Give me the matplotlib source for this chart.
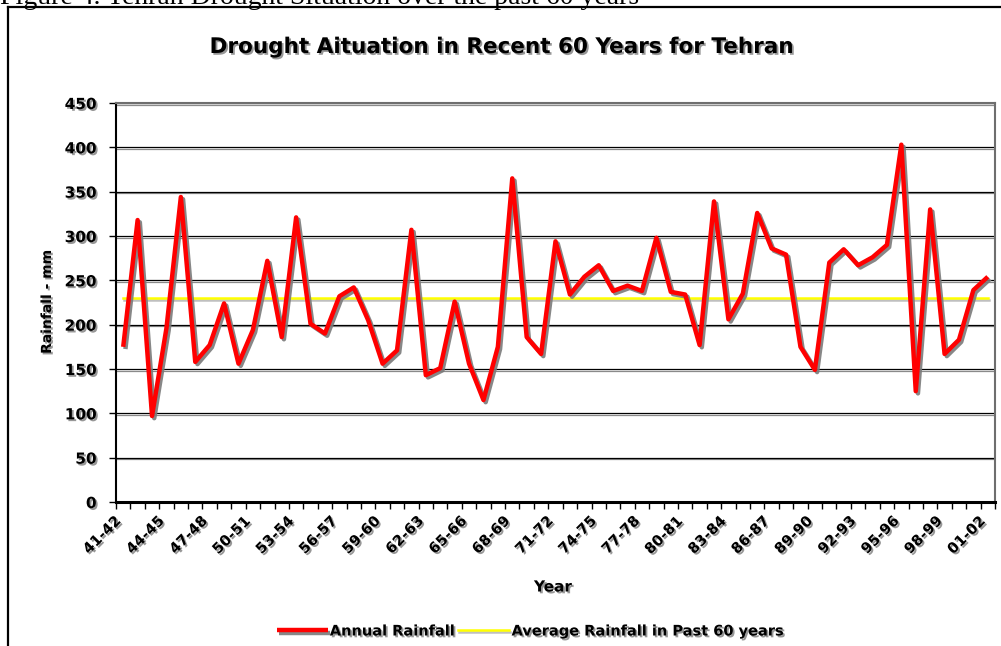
import numpy as np
import matplotlib
matplotlib.use("Agg")
import matplotlib.pyplot as plt
import matplotlib.patheffects as pe
from matplotlib.transforms import ScaledTranslation
from matplotlib.lines import Line2D

# hydrological years 1941-42 ... 2001-02
seasons = ["41-42", "42-43", "43-44", "44-45", "45-46", "46-47", "47-48", "48-49", "49-50", "50-51",
           "51-52", "52-53", "53-54", "54-55", "55-56", "56-57", "57-58", "58-59", "59-60", "60-61",
           "61-62", "62-63", "63-64", "64-65", "65-66", "66-67", "67-68", "68-69", "69-70", "70-71",
           "71-72", "72-73", "73-74", "74-75", "75-76", "76-77", "77-78", "78-79", "79-80", "80-81",
           "81-82", "82-83", "83-84", "84-85", "85-86", "86-87", "87-88", "88-89", "89-90", "90-91",
           "91-92", "92-93", "93-94", "94-95", "95-96", "96-97", "97-98", "98-99", "99-00", "00-01",
           "01-02"]

# annual rainfall (mm)
rain = [175, 318, 97, 196, 344, 158, 177, 224, 156, 194,
        272, 186, 321, 201, 190, 232, 242, 205, 156, 171,
        307, 143, 151, 226, 156, 115, 175, 365, 186, 167,
        294, 234, 254, 267, 238, 244, 238, 298, 237, 234,
        177, 339, 206, 235, 326, 286, 279, 175, 149, 270,
        285, 267, 276, 290, 403, 125, 330, 167, 183, 239,
        254]

yticks = [0, 50, 100, 150, 200, 250, 300, 350, 400, 450]

x = np.arange(len(seasons))
avg = np.mean(rain)

fig = plt.figure(figsize=(10.01, 6.46), dpi=100)
W, H = 1001, 646
ax = fig.add_axes([116 / W, 1 - 502 / H, (995 - 116) / W, (502 - 103) / H])

txt_shadow = [pe.withSimplePatchShadow(offset=(1.3, -1.3), shadow_rgbFace="#8c8c8c", alpha=0.9)]
line_shadow = [pe.SimpleLineShadow(offset=(1.6, -1.6), shadow_color="#7a7a7a", alpha=0.9), pe.Normal()]

ax.plot(x, rain, color="#ff0000", lw=3.2, solid_joinstyle="round", solid_capstyle="butt",
        path_effects=line_shadow, zorder=4, label="Annual Rainfall")
ax.plot(x, np.full(len(x), avg), color="#ffff00", lw=1.8,
        path_effects=[pe.SimpleLineShadow(offset=(0.8, -0.8), shadow_color="#b0b0b0", alpha=0.8), pe.Normal()],
        zorder=3, label="Average Rainfall in Past 60 years")

ax.set_xlim(-0.5, len(x) - 0.5)
ax.set_ylim(0, 450)
ax.set_yticks(yticks)
ax.set_yticklabels([str(v) for v in yticks])
ax.yaxis.grid(True, color="black", lw=0.9)
for gl in ax.get_ygridlines():
    gl.set_path_effects([pe.SimpleLineShadow(offset=(0, -1.2), shadow_color="#8a8a8a", alpha=1), pe.Normal()])
ax.set_axisbelow(True)

ax.set_xticks(x[::3])
ax.set_xticklabels(seasons[::3])
ax.set_xticks(np.arange(len(x) + 1) - 0.5, minor=True)
ax.tick_params(axis="x", which="major", length=0, pad=8)
ax.tick_params(axis="x", which="minor", length=5, width=1, color="black", direction="out")
ax.tick_params(axis="y", length=5, width=1, color="black", direction="out", pad=9)

for lab in ax.get_xticklabels():
    lab.set_rotation(45)
    lab.set_ha("right")
    lab.set_va("top")
    lab.set_rotation_mode("anchor")
    lab.set_fontsize(10.5)
    lab.set_fontweight("bold")
    lab.set_path_effects(txt_shadow)
    lab.set_transform(lab.get_transform() + ScaledTranslation(-0.1, 0, fig.dpi_scale_trans))
for lab in ax.get_yticklabels():
    lab.set_fontsize(11)
    lab.set_fontweight("bold")
    lab.set_path_effects(txt_shadow)

ax.spines["left"].set_linewidth(1.5)
ax.spines["bottom"].set_linewidth(2.2)
for s in ["top", "right"]:
    ax.spines[s].set_color("#6e6e6e")
    ax.spines[s].set_linewidth(1.5)

fig.text(47 / W, 1 - 302 / H, "Rainfall - mm", rotation=90, ha="center", va="center",
         fontsize=10, fontweight="bold", path_effects=txt_shadow)
fig.text(553 / W, 1 - 587 / H, "Year", ha="center", va="center",
         fontsize=11, fontweight="bold", path_effects=txt_shadow)
fig.text(0.5, 1 - 47 / H, "Drought Aituation in Recent 60 Years for Tehran", ha="center", va="center",
         fontsize=15.5, fontweight="bold", path_effects=txt_shadow)

# caption of the page, cut off at the top like in the source
fig.text(0 / W, 1 - 4.5 / H, "Figure 4. Tehran Drought Situation over the past 60 years",
         family="Liberation Serif", fontsize=20, ha="left", va="baseline")

# outer chart border
fig.add_artist(Line2D([8 / W, 8 / W], [0, 1 - 7 / H], color="black", lw=1.6, transform=fig.transFigure))
fig.add_artist(Line2D([8 / W, 1], [1 - 7 / H, 1 - 7 / H], color="black", lw=1.6, transform=fig.transFigure))

handles, labels = ax.get_legend_handles_labels()
leg = fig.legend(handles, labels, loc="center", bbox_to_anchor=(531 / W, 1 - 631 / H), ncol=2,
                 frameon=False, prop={"weight": "bold", "size": 10.5}, handlelength=3.5,
                 handletextpad=0.15, columnspacing=0.2)
for t in leg.get_texts():
    t.set_path_effects(txt_shadow)

fig.savefig("out.png", dpi=100)
